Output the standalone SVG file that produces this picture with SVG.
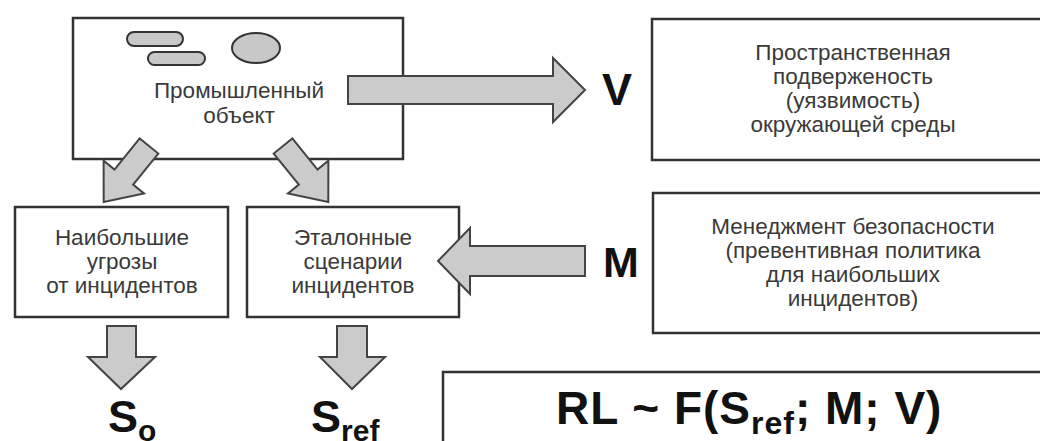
<svg xmlns="http://www.w3.org/2000/svg" width="1040" height="441" viewBox="0 0 1040 441">
<style>
.box{fill:#fff;stroke:#333;stroke-width:2.5}
.shape{fill:#c8c8c8;stroke:#333;stroke-width:2}
.arr{fill:#cbcbcb;stroke:#444;stroke-width:2;stroke-linejoin:miter}
.t{font-family:"Liberation Sans",Arial,sans-serif;font-size:22.5px;fill:#3a3a3a;text-anchor:middle}
.b{font-family:"Liberation Sans",Arial,sans-serif;font-weight:bold;fill:#111}
</style>
<defs>
<path id="diag" d="M0,-12 H40 V-26 L72,0 L40,26 V12 H0 Z"/>
</defs>
<rect width="1040" height="441" fill="#fff"/>
<g id="node-object">
<rect class="box" x="73" y="18" width="330" height="141"/>
<rect class="shape" x="127" y="32" width="56" height="14" rx="7"/>
<rect class="shape" x="148" y="52" width="57" height="13" rx="6.5"/>
<ellipse class="shape" cx="256" cy="48" rx="24" ry="15"/>
<text class="t" x="239" y="98">Промышленный</text>
<text class="t" x="239" y="123">объект</text>
</g>
<g id="node-vulnerability">
<rect class="box" x="652" y="19" width="410" height="141"/>
<text class="t" x="853" y="60">Пространственная</text>
<text class="t" x="853" y="84">подверженость</text>
<text class="t" x="853" y="108">(уязвимость)</text>
<text class="t" x="853" y="132">окружающей среды</text>
</g>
<g id="node-threats">
<rect class="box" x="15" y="207" width="213" height="110"/>
<text class="t" x="122" y="245">Наибольшие</text>
<text class="t" x="122" y="269">угрозы</text>
<text class="t" x="122" y="293">от инцидентов</text>
</g>
<g id="node-scenarios">
<rect class="box" x="247" y="207" width="212" height="110"/>
<text class="t" x="353" y="245">Эталонные</text>
<text class="t" x="353" y="269">сценарии</text>
<text class="t" x="353" y="293">инцидентов</text>
</g>
<g id="node-management">
<rect class="box" x="653" y="193" width="410" height="140"/>
<text class="t" x="853" y="234">Менеджмент безопасности</text>
<text class="t" x="853" y="258">(превентивная политика</text>
<text class="t" x="853" y="282">для наибольших</text>
<text class="t" x="853" y="306">инцидентов)</text>
</g>
<g id="node-formula">
<rect class="box" x="443" y="372" width="620" height="100"/>
<text class="b" x="556" y="424" font-size="46" letter-spacing="1">RL ~ F(S<tspan font-size="32" dy="10">ref</tspan><tspan dy="-10">; M; V)</tspan></text>
</g>
<g id="connectors">
<path class="arr" d="M348,76 H553 V58 L585,90 L553,122 V104 H348 Z"/>
<text class="b" x="617" y="105" font-size="45" text-anchor="middle">V</text>
<path class="arr" d="M585,246 H470 V228 L438,261 L470,294 V276 H585 Z"/>
<text class="b" x="621" y="277" font-size="43" text-anchor="middle">M</text>
<use href="#diag" class="arr" transform="translate(149,146) rotate(129)"/>
<use href="#diag" class="arr" transform="translate(283,146) rotate(51)"/>
<path class="arr" d="M107,326 H136 V357 H155 L121,389 L88,357 H107 Z"/>
<path class="arr" d="M337,326 H367 V357 H385 L352,389 L320,357 H337 Z"/>
<text class="b" x="108" y="432" font-size="45">S<tspan font-size="30" dy="9">o</tspan></text>
<text class="b" x="311" y="432" font-size="45">S<tspan font-size="30" dy="9">ref</tspan></text>
</g>
</svg>
